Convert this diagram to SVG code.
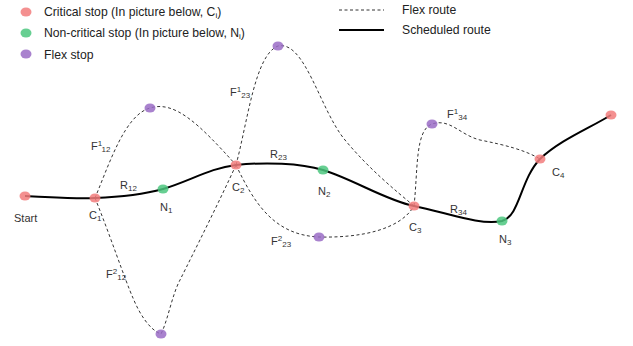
<svg xmlns="http://www.w3.org/2000/svg" width="633" height="346" viewBox="0 0 633 346">
<style>
text{font-family:"Liberation Sans",Arial,sans-serif;font-size:11px;fill:#333}
.leg{font-size:12.2px;fill:#222}
.sub{font-size:8px}
.flex{fill:none;stroke:#333;stroke-width:1;stroke-dasharray:3,2.5}
.sched{fill:none;stroke:#000;stroke-width:2}
.c{fill:#f27c7c;opacity:0.85}
.n{fill:#4cc77f;opacity:0.85}
.f{fill:#9a6cc6;opacity:0.85}
</style>
<rect width="633" height="346" fill="#fff"/>
<g id="legend">
<ellipse class="c" cx="26" cy="12" rx="5.5" ry="4.5"/>
<text class="leg" x="44" y="16">Critical stop (In picture below, C<tspan class="sub" dy="2">i</tspan><tspan dy="-2">)</tspan></text>
<ellipse class="n" cx="26" cy="33" rx="5.5" ry="4.5"/>
<text class="leg" x="44" y="37">Non-critical stop (In picture below, N<tspan class="sub" dy="2">i</tspan><tspan dy="-2">)</tspan></text>
<ellipse class="f" cx="26" cy="54" rx="5.5" ry="4.5"/>
<text class="leg" x="44" y="59">Flex stop</text>
<line class="flex" x1="339" y1="10" x2="384" y2="10"/>
<text class="leg" x="402" y="14">Flex route</text>
<line class="sched" x1="339" y1="30" x2="384" y2="30"/>
<text class="leg" x="402" y="34">Scheduled route</text>
</g>
<g id="connectors">
<path id="F1_12" class="flex" d="M95,198 C110,162 125,115 150,108 C175,100 200,125 236,165"/>
<path id="F2_12" class="flex" d="M95,198 C110,235 125,280 133,298 C140,315 150,330 161,334 C168,320 172,295 180,280 C195,250 220,200 236,165"/>
<path id="F1_23" class="flex" d="M236,165 C248,120 255,55 278,46 C305,40 320,110 345,140 C370,170 395,190 414,206"/>
<path id="F2_23" class="flex" d="M236,165 C255,205 275,235 319,237 C360,238 400,230 414,206"/>
<path id="F1_34" class="flex" d="M414,206 C418,170 415,130 432,124 C450,118 460,135 480,140 C505,145 525,150 540,159"/>
<path id="route" class="sched" d="M25,196 C50,197 75,199 95,198 C120,197 145,194 163,189 C190,181 210,168 236,165 C265,162 300,163 323,170 C355,180 385,200 414,206 C445,212 480,226 502,221 C520,216 520,180 540,159 C560,140 590,128 611,115"/>
</g>
<g id="start"><ellipse class="c" cx="25" cy="196" rx="5.5" ry="4.5"/><text x="14" y="222">Start</text></g>
<g id="C1"><ellipse class="c" cx="95" cy="198" rx="5.5" ry="4.5"/><text x="89" y="219">C<tspan class="sub" dy="2">1</tspan></text></g>
<g id="N1"><ellipse class="n" cx="163" cy="189" rx="5.5" ry="4.5"/><text x="160" y="211">N<tspan class="sub" dy="2">1</tspan></text></g>
<g id="C2"><ellipse class="c" cx="236" cy="165" rx="5.5" ry="4.5"/><text x="232" y="191">C<tspan class="sub" dy="2">2</tspan></text></g>
<g id="N2"><ellipse class="n" cx="323" cy="170" rx="5.5" ry="4.5"/><text x="318" y="195">N<tspan class="sub" dy="2">2</tspan></text></g>
<g id="C3"><ellipse class="c" cx="414" cy="206" rx="5.5" ry="4.5"/><text x="409" y="231">C<tspan class="sub" dy="2">3</tspan></text></g>
<g id="N3"><ellipse class="n" cx="502" cy="221" rx="5.5" ry="4.5"/><text x="499" y="243">N<tspan class="sub" dy="2">3</tspan></text></g>
<g id="C4"><ellipse class="c" cx="540" cy="159" rx="5.5" ry="4.5"/><text x="552" y="176">C<tspan class="sub" dy="2">4</tspan></text></g>
<g id="end"><ellipse class="c" cx="611" cy="115" rx="5.5" ry="4.5"/></g>
<g id="FS1_12"><ellipse class="f" cx="150" cy="108" rx="5.5" ry="4.5"/><text x="91" y="150">F<tspan class="sub" dy="-4">1</tspan><tspan class="sub" dy="6">12</tspan></text></g>
<g id="FS2_12"><ellipse class="f" cx="161" cy="334" rx="5.5" ry="4.5"/><text x="106" y="278">F<tspan class="sub" dy="-4">2</tspan><tspan class="sub" dy="6">12</tspan></text></g>
<g id="FS1_23"><ellipse class="f" cx="278" cy="46" rx="5.5" ry="4.5"/><text x="230" y="96">F<tspan class="sub" dy="-4">1</tspan><tspan class="sub" dy="6">23</tspan></text></g>
<g id="FS2_23"><ellipse class="f" cx="319" cy="237" rx="5.5" ry="4.5"/><text x="271" y="245">F<tspan class="sub" dy="-4">2</tspan><tspan class="sub" dy="6">23</tspan></text></g>
<g id="FS1_34"><ellipse class="f" cx="432" cy="124" rx="5.5" ry="4.5"/><text x="447" y="118">F<tspan class="sub" dy="-4">1</tspan><tspan class="sub" dy="6">34</tspan></text></g>
<g id="routeLabels">
<text x="120" y="189">R<tspan class="sub" dy="2">12</tspan></text>
<text x="270" y="158">R<tspan class="sub" dy="2">23</tspan></text>
<text x="450" y="213">R<tspan class="sub" dy="2">34</tspan></text>
</g>
</svg>
